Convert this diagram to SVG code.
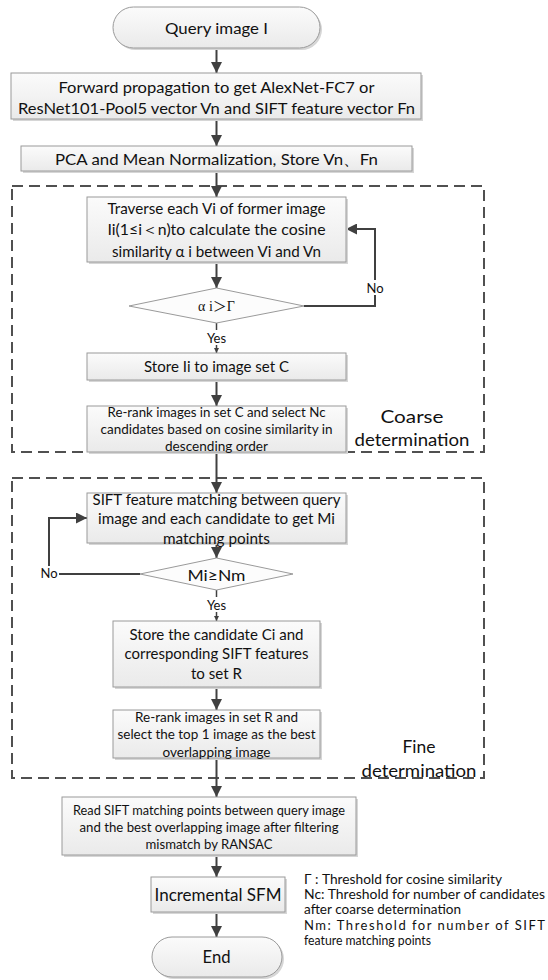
<svg xmlns="http://www.w3.org/2000/svg" width="548" height="980" viewBox="0 0 548 980">
<defs>
<linearGradient id="gb" x1="0" y1="0" x2="0" y2="1">
<stop offset="0" stop-color="#fbfbfb"/>
<stop offset="1" stop-color="#eaeaea"/>
</linearGradient>
<marker id="ah" viewBox="0 0 10 10" refX="10" refY="5" markerWidth="11" markerHeight="11" orient="auto" markerUnits="userSpaceOnUse">
<path d="M0,0 L10,5 L0,10 z" fill="#404040"/>
</marker>
<marker id="as" viewBox="0 0 10 10" refX="10" refY="5" markerWidth="5" markerHeight="5" orient="auto" markerUnits="userSpaceOnUse">
<path d="M0,0 L10,5 L0,10 z" fill="#404040"/>
</marker>
</defs>
<style>
.box{fill:url(#gb);stroke:#9a9a9a;stroke-width:1}
.sh{fill:#d6d6d6}
.dia{fill:#fcfcfc;stroke:#9a9a9a;stroke-width:1}
.t{font-family:Lato,"Liberation Sans",sans-serif;fill:#111;text-anchor:middle}
.m{font-size:16px}
.s{font-size:13px}
.big{font-size:18px}
.lab{font-family:Lato,"Liberation Sans",sans-serif;font-size:13px;fill:#111;text-anchor:middle}
.leg{font-family:Lato,"Liberation Sans",sans-serif;font-size:13px;fill:#111}
.ser{font-family:"Liberation Serif","Noto Sans CJK SC",serif}
.c{fill:none;stroke:#404040;stroke-width:2}
.cs{fill:none;stroke:#404040;stroke-width:1.5}
.dash{fill:none;stroke:#505050;stroke-width:2;stroke-dasharray:11,6}
.wb{fill:#fff}
</style>
<rect width="548" height="980" fill="#fff"/>

<g id="coarse-region">
<rect class="dash" x="12" y="186" width="472" height="266"/>
<text class="t big" x="412" y="423" textLength="63" lengthAdjust="spacingAndGlyphs">Coarse</text>
<text class="t big" x="412" y="446" textLength="115" lengthAdjust="spacingAndGlyphs">determination</text>
</g>
<g id="fine-region">
<rect class="dash" x="12" y="478" width="472" height="300"/>
<text class="t big" x="419" y="753" textLength="33" lengthAdjust="spacingAndGlyphs">Fine</text>
<text class="t big" x="419" y="777" textLength="115" lengthAdjust="spacingAndGlyphs">determination</text>
</g>

<g id="connectors">
<path class="c" d="M216.5,48 V73" marker-end="url(#ah)"/>
<path class="c" d="M216.5,119 V146" marker-end="url(#ah)"/>
<path class="c" d="M216.5,171 V197" marker-end="url(#ah)"/>
<path class="c" d="M216.5,262 V288" marker-end="url(#ah)"/>
<path class="cs" d="M216.5,323 V353" marker-end="url(#as)"/>
<path class="c" d="M304,306 H375 V229 H346" marker-end="url(#ah)"/>
<path class="c" d="M216.5,380 V406" marker-end="url(#ah)"/>
<path class="c" d="M216.5,452 V493" marker-end="url(#ah)"/>
<path class="c" d="M216.5,543 V558" marker-end="url(#ah)"/>
<path class="c" d="M140,574 H49 V518 H87" marker-end="url(#ah)"/>
<path class="cs" d="M216.5,590 V621" marker-end="url(#as)"/>
<path class="c" d="M216.5,687 V710" marker-end="url(#ah)"/>
<path class="c" d="M216.5,758 V797" marker-end="url(#ah)"/>
<path class="c" d="M216.5,855 V877" marker-end="url(#ah)"/>
<path class="c" d="M216.5,912 V937" marker-end="url(#ah)"/>
<rect class="wb" x="204" y="330" width="25" height="15"/>
<text class="lab" x="216.5" y="343">Yes</text>
<rect class="wb" x="365" y="280" width="21" height="15"/>
<text class="lab" x="375" y="293">No</text>
<rect class="wb" x="38" y="566" width="21" height="15"/>
<text class="lab" x="49" y="578">No</text>
<rect class="wb" x="204" y="597" width="25" height="15"/>
<text class="lab" x="216.5" y="610">Yes</text>
</g>

<g id="n1">
<rect class="sh" x="115" y="9" width="207" height="41" rx="20.5"/>
<rect class="box" x="113" y="7" width="207" height="41" rx="20.5"/>
<text class="t m" x="216.5" y="33.5" textLength="103" lengthAdjust="spacingAndGlyphs">Query image I</text>
</g>
<g id="n2">
<rect class="sh" x="13" y="75" width="410" height="46"/>
<rect class="box" x="11" y="73" width="410" height="46"/>
<text class="t m" x="216.5" y="92.5" textLength="316" lengthAdjust="spacingAndGlyphs">Forward propagation to get AlexNet-FC7 or</text>
<text class="t m" x="216.5" y="113.5" textLength="397" lengthAdjust="spacingAndGlyphs">ResNet101-Pool5 vector Vn and SIFT feature vector Fn</text>
</g>
<g id="n3">
<rect class="sh" x="23" y="148" width="391" height="25"/>
<rect class="box" x="21" y="146" width="391" height="25"/>
<text class="t m" x="216.5" y="164.5" textLength="323" lengthAdjust="spacingAndGlyphs">PCA and Mean Normalization, Store Vn、Fn</text>
</g>
<g id="n4">
<rect class="sh" x="89" y="199" width="259" height="65"/>
<rect class="box" x="87" y="197" width="259" height="65"/>
<text class="t m" x="216.5" y="213.5" textLength="218" lengthAdjust="spacingAndGlyphs">Traverse each Vi of former image</text>
<text class="t m" x="216.5" y="234.5" textLength="218" lengthAdjust="spacingAndGlyphs">Ii(1≤i＜n)to calculate the cosine</text>
<text class="t m" x="216.5" y="256.5" textLength="209" lengthAdjust="spacingAndGlyphs">similarity α i between Vi and Vn</text>
</g>
<g id="n5">
<polygon class="dia" points="129,306 216.5,288 304,306 216.5,323"/>
<text class="t ser" font-size="14" x="216.5" y="311">α i＞Γ</text>
</g>
<g id="n6">
<rect class="sh" x="89" y="355" width="259" height="27"/>
<rect class="box" x="87" y="353" width="259" height="27"/>
<text class="t m" x="216.5" y="371.5" textLength="145" lengthAdjust="spacingAndGlyphs">Store Ii to image set C</text>
</g>
<g id="n7">
<rect class="sh" x="89" y="408" width="259" height="46"/>
<rect class="box" x="87" y="406" width="259" height="46"/>
<text class="t s" x="216.5" y="416.5" textLength="218" lengthAdjust="spacingAndGlyphs">Re-rank images in set C and select Nc</text>
<text class="t s" x="216.5" y="433.5" textLength="232" lengthAdjust="spacingAndGlyphs">candidates based on cosine similarity in</text>
<text class="t s" x="216.5" y="450.5" textLength="103" lengthAdjust="spacingAndGlyphs">descending order</text>
</g>
<g id="n8">
<rect class="sh" x="89" y="495" width="259" height="50"/>
<rect class="box" x="87" y="493" width="259" height="50"/>
<text class="t m" x="216.5" y="504.5" textLength="248" lengthAdjust="spacingAndGlyphs">SIFT feature matching between query</text>
<text class="t m" x="216.5" y="523.5" textLength="237" lengthAdjust="spacingAndGlyphs">image and each candidate to get Mi</text>
<text class="t m" x="216.5" y="543.5" textLength="107" lengthAdjust="spacingAndGlyphs">matching points</text>
</g>
<g id="n9">
<polygon class="dia" points="140,574 216.5,558 293,574 216.5,590"/>
<text class="t m" x="216.5" y="580.5" textLength="58" lengthAdjust="spacingAndGlyphs">Mi≥Nm</text>
</g>
<g id="n10">
<rect class="sh" x="115" y="623" width="207" height="66"/>
<rect class="box" x="113" y="621" width="207" height="66"/>
<text class="t m" x="216.5" y="639.5" textLength="174" lengthAdjust="spacingAndGlyphs">Store the candidate Ci and</text>
<text class="t m" x="216.5" y="658.5" textLength="184" lengthAdjust="spacingAndGlyphs">corresponding SIFT features</text>
<text class="t m" x="216.5" y="678.5" textLength="51" lengthAdjust="spacingAndGlyphs">to set R</text>
</g>
<g id="n11">
<rect class="sh" x="115" y="712" width="207" height="48"/>
<rect class="box" x="113" y="710" width="207" height="48"/>
<text class="t s" x="216.5" y="721.5" textLength="163" lengthAdjust="spacingAndGlyphs">Re-rank images in set R and</text>
<text class="t s" x="216.5" y="738.5" textLength="198" lengthAdjust="spacingAndGlyphs">select the top 1 image as the best</text>
<text class="t s" x="216.5" y="756.5" textLength="108" lengthAdjust="spacingAndGlyphs">overlapping image</text>
</g>
<g id="n12">
<rect class="sh" x="64" y="799" width="294" height="58"/>
<rect class="box" x="62" y="797" width="294" height="58"/>
<text class="t s" x="209" y="814.5" textLength="272" lengthAdjust="spacingAndGlyphs">Read SIFT matching points between query image</text>
<text class="t s" x="209" y="831.5" textLength="259" lengthAdjust="spacingAndGlyphs">and the best overlapping image after filtering</text>
<text class="t s" x="209" y="848.5" textLength="127" lengthAdjust="spacingAndGlyphs">mismatch by RANSAC</text>
</g>
<g id="n13">
<rect class="sh" x="153" y="879" width="134" height="35"/>
<rect class="box" x="151" y="877" width="134" height="35"/>
<text class="t" font-size="17" x="218" y="901" textLength="127" lengthAdjust="spacingAndGlyphs">Incremental SFM</text>
</g>
<g id="n14">
<rect class="sh" x="154" y="939" width="130" height="40" rx="20"/>
<rect class="box" x="152" y="937" width="130" height="40" rx="20"/>
<text class="t" font-size="17" x="216.5" y="963" textLength="28" lengthAdjust="spacingAndGlyphs">End</text>
</g>

<g id="legend">
<text class="leg" x="304" y="884" textLength="198" lengthAdjust="spacingAndGlyphs">Γ : Threshold for cosine similarity</text>
<text class="leg" x="304" y="899" textLength="241" lengthAdjust="spacingAndGlyphs">Nc: Threshold for number of candidates</text>
<text class="leg" x="304" y="914" textLength="157" lengthAdjust="spacingAndGlyphs">after coarse determination</text>
<text class="leg" x="304" y="930" textLength="241" lengthAdjust="spacing">Nm: Threshold for number of SIFT</text>
<text class="leg" x="304" y="945" textLength="127" lengthAdjust="spacingAndGlyphs">feature matching points</text>
</g>
</svg>
